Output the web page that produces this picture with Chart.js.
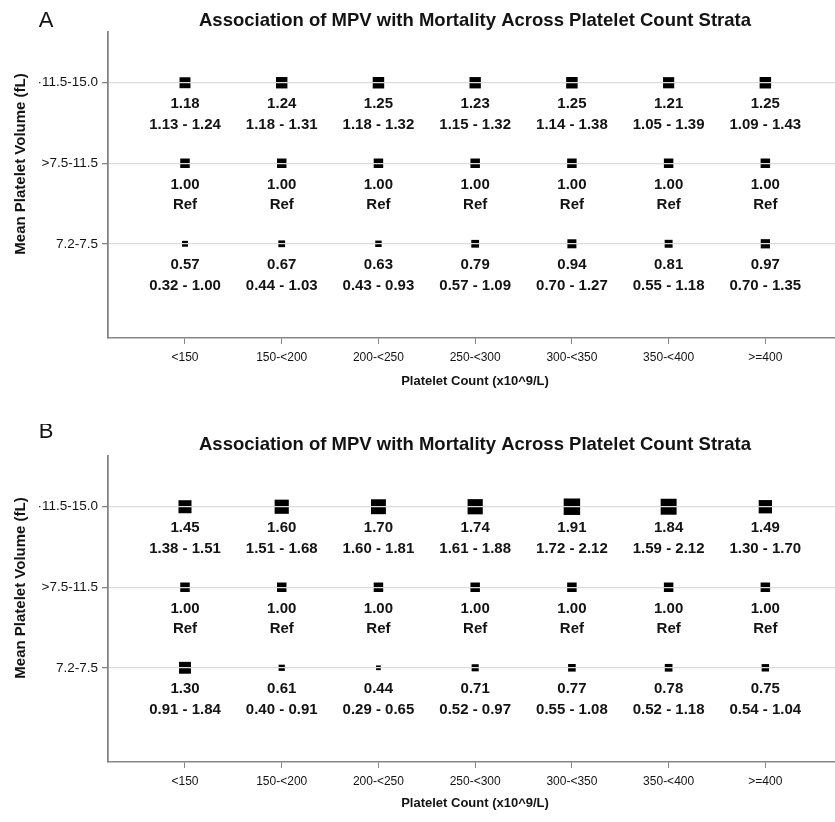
<!DOCTYPE html>
<html>
<head>
<meta charset="utf-8">
<script src="https://cdn.jsdelivr.net/npm/chart.js@4.4.0/dist/chart.umd.min.js"></script>
<style>
    body { margin: 0; background: #fff; }
    canvas { display: block; }
</style>
</head>
<body>
<canvas id="panelA" width="835" height="424"></canvas>
<canvas id="panelB" width="835" height="398"></canvas>
<script>
const plateletCats = ['<150', '150-<200', '200-<250', '250-<300', '300-<350', '350-<400', '>=400'];
// bottom row first
const mpvRows = ['7.2-7.5', '>7.5-11.5', '\u00b711.5-15.0'];

const chartTitle = 'Association of MPV with Mortality Across Platelet Count Strata';
const xTitle = 'Platelet Count (x10^9/L)';
const yTitle = 'Mean Platelet Volume (fL)';

// panel A
const hrA_high = [1.18, 1.24, 1.25, 1.23, 1.25, 1.21, 1.25];
const ciA_high = ['1.13 - 1.24', '1.18 - 1.31', '1.18 - 1.32', '1.15 - 1.32', '1.14 - 1.38', '1.05 - 1.39', '1.09 - 1.43'];
const hrA_mid = [1.00, 1.00, 1.00, 1.00, 1.00, 1.00, 1.00];
const ciA_mid = ['Ref', 'Ref', 'Ref', 'Ref', 'Ref', 'Ref', 'Ref'];
const hrA_low = [0.57, 0.67, 0.63, 0.79, 0.94, 0.81, 0.97];
const ciA_low = ['0.32 - 1.00', '0.44 - 1.03', '0.43 - 0.93', '0.57 - 1.09', '0.70 - 1.27', '0.55 - 1.18', '0.70 - 1.35'];

// panel B
const hrB_high = [1.45, 1.60, 1.70, 1.74, 1.91, 1.84, 1.49];
const ciB_high = ['1.38 - 1.51', '1.51 - 1.68', '1.60 - 1.81', '1.61 - 1.88', '1.72 - 2.12', '1.59 - 2.12', '1.30 - 1.70'];
const hrB_mid = [1.00, 1.00, 1.00, 1.00, 1.00, 1.00, 1.00];
const ciB_mid = ['Ref', 'Ref', 'Ref', 'Ref', 'Ref', 'Ref', 'Ref'];
const hrB_low = [1.30, 0.61, 0.44, 0.71, 0.77, 0.78, 0.75];
const ciB_low = ['0.91 - 1.84', '0.40 - 0.91', '0.29 - 0.65', '0.52 - 0.97', '0.55 - 1.08', '0.52 - 1.18', '0.54 - 1.04'];

const textColor = '#131313';
const axisColor = '#858585';
const gridColor = '#dcdcdc';

function buildPoints(rows) {
    const points = [];
    rows.forEach(function (row, rowIndex) {
        row.hr.forEach(function (hr, i) {
            points.push({x: i, y: rowIndex, hr: hr, ci: row.ci[i]});
        });
    });
    return points;
}

// marker side grows with the hazard ratio
function markerRadius(ctx) {
    const hr = ctx.raw ? ctx.raw.hr : 1;
    const side = 9.5 * Math.pow(hr, 0.85);
    return side / Math.SQRT2;
}

const panelText = {
    id: 'panelText',
    afterDraw(chart, args, opts) {
        const c = chart.ctx;
        const xs = chart.scales.x;
        const ys = chart.scales.y;
        c.save();
        c.fillStyle = textColor;
        c.textAlign = 'center';
        c.textBaseline = 'middle';

        c.font = '22px "Liberation Sans", Arial, sans-serif';
        c.fillText(opts.letter, 46, opts.letterY);

        c.font = 'bold 18.5px "Liberation Sans", Arial, sans-serif';
        c.fillText(chartTitle, 475, opts.titleY);

        c.font = 'bold 13px "Liberation Sans", Arial, sans-serif';
        c.fillText(xTitle, 475, opts.xTitleY);

        c.save();
        c.translate(21, 164);
        c.rotate(-Math.PI / 2);
        c.font = 'bold 15px "Liberation Sans", Arial, sans-serif';
        c.fillText(yTitle, 0, 0);
        c.restore();

        c.font = 'bold 15px "Liberation Sans", Arial, sans-serif';
        chart.data.datasets[0].data.forEach(function (p) {
            const px = xs.getPixelForValue(p.x);
            const py = ys.getPixelForValue(p.y);
            c.fillText(p.hr.toFixed(2), px, py + 21.5);
            c.fillText(p.ci, px, py + 42);
        });
        c.restore();
    }
};

function makePanel(canvasId, rows, textOpts) {
    const canvas = document.getElementById(canvasId);
    const axisBottom = 338;
    return new Chart(canvas.getContext('2d'), {
        type: 'scatter',
        data: {
            datasets: [{
                data: buildPoints(rows),
                pointStyle: 'rect',
                pointRadius: markerRadius,
                pointHoverRadius: markerRadius,
                backgroundColor: '#000',
                borderWidth: 0
            }]
        },
        options: {
            responsive: false,
            animation: false,
            events: [],
            layout: { autoPadding: false, padding: { top: 32, left: 0, right: 0, bottom: 0 } },
            plugins: {
                legend: { display: false },
                tooltip: { enabled: false },
                panelText: textOpts
            },
            scales: {
                x: {
                    type: 'linear',
                    min: -0.796,
                    max: 6.72,
                    afterBuildTicks: function (scale) {
                        scale.ticks = plateletCats.map((_, i) => ({value: i}));
                    },
                    afterFit: function (scale) {
                        scale.height = canvas.height - axisBottom;
                    },
                    ticks: {
                        autoSkip: false,
                        maxRotation: 0,
                        padding: 6,
                        color: textColor,
                        font: { family: '"Liberation Sans", Arial', size: 12 },
                        callback: (v) => plateletCats[v]
                    },
                    grid: {
                        drawOnChartArea: false,
                        tickLength: 6,
                        tickColor: axisColor,
                        tickWidth: 1
                    },
                    border: { color: axisColor, width: 1.5 }
                },
                y: {
                    type: 'linear',
                    min: -1.17,
                    max: 2.63,
                    afterBuildTicks: function (scale) {
                        scale.ticks = mpvRows.map((_, i) => ({value: i}));
                    },
                    afterFit: function (scale) {
                        scale.width = 108;
                    },
                    ticks: {
                        padding: 4,
                        color: textColor,
                        font: { family: '"Liberation Sans", Arial', size: 13.5 },
                        callback: (v) => mpvRows[v]
                    },
                    grid: {
                        color: gridColor,
                        lineWidth: 1.3,
                        z: 1,
                        tickLength: 6,
                        tickColor: axisColor
                    },
                    border: { color: axisColor, width: 1.8, z: 1 }
                }
            }
        },
        plugins: [panelText]
    });
}

makePanel('panelA', [
    {hr: hrA_low, ci: ciA_low},
    {hr: hrA_mid, ci: ciA_mid},
    {hr: hrA_high, ci: ciA_high}
], {letter: 'A', letterY: 21, titleY: 21, xTitleY: 381});

makePanel('panelB', [
    {hr: hrB_low, ci: ciB_low},
    {hr: hrB_mid, ci: ciB_mid},
    {hr: hrB_high, ci: ciB_high}
], {letter: 'B', letterY: 8, titleY: 21, xTitleY: 379});
</script>
</body>
</html>
